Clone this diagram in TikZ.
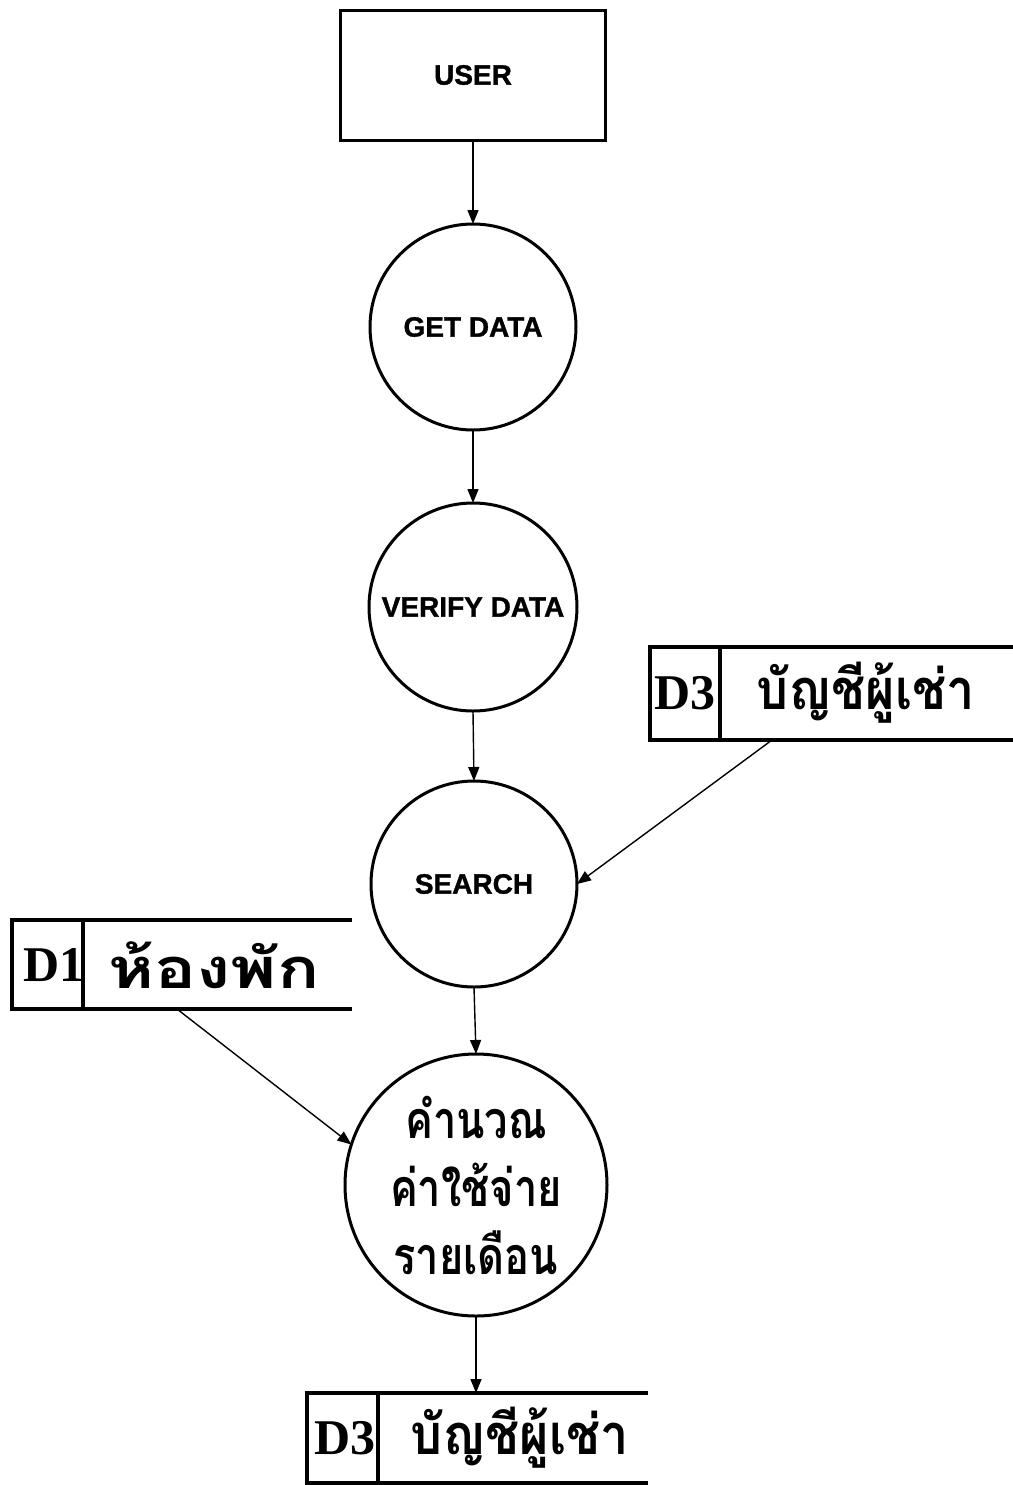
\documentclass[tikz,border=0pt]{standalone}
\usepackage{fontspec}
\newfontfamily\lsans[FakeBold=1.2]{Liberation Sans}
\newfontfamily\lserif{Liberation Serif}
\newfontfamily\thaifont[Script=Thai,FakeStretch=0.9]{Loma}
\newfontfamily\thainarrow[Script=Thai,FakeStretch=0.8]{Loma}
\newfontfamily\thaiwide[Script=Thai,FakeStretch=1.25]{Loma}
\usetikzlibrary{arrows.meta,calc}
\begin{document}
\begin{tikzpicture}[x=0.5pt,y=-0.5pt,
  proc/.style={draw, circle, line width=1.5pt, inner sep=0pt, outer sep=0pt,
    font=\lsans\bfseries\fontsize{14}{16}\selectfont},
  entity/.style={draw, rectangle, line width=1.5pt, inner sep=0pt, outer sep=0pt,
    minimum width=132.5pt, minimum height=65pt,
    font=\lsans\bfseries\fontsize{14}{16}\selectfont},
  storebox/.style={inner sep=0pt, outer sep=0pt, anchor=north west},
  storeline/.style={line width=2pt},
  sid/.style={font=\lserif\bfseries\fontsize{25}{28}\selectfont, inner sep=0pt},
  sname/.style={font=\thaifont\bfseries\fontsize{28}{30}\selectfont, inner sep=0pt},
  flow/.style={line width=0.7pt, -{Triangle[length=7pt,width=5.5pt]}}]
\useasboundingbox (0,0) rectangle (1013,1485);

% external entity
\node[entity] (user) at (473,75) {USER};

% processes
\node[proc, minimum size=103pt] (get) at (473,327) {GET DATA};
\node[proc, minimum size=104pt] (verify) at (473,607) {VERIFY DATA};
\node[proc, minimum size=103pt] (search) at (474,884) {SEARCH};
\node[proc, minimum size=131pt, font=\thainarrow\bfseries\fontsize{26}{34}\selectfont, align=center]
  (calc) at (476,1185) {คำนวณ\\ค่าใช้จ่าย\\รายเดือน};

% data store D3 (top right)
\node[storebox, minimum width=181.5pt, minimum height=46.5pt] (d3a) at (650,647) {};
\draw[storeline] (d3a.north east) -- (d3a.north west) -- (d3a.south west) -- (d3a.south east);
\coordinate (d3adiv) at (720,647);
\draw[storeline] (d3adiv) -- (d3adiv |- d3a.south);
\node[sid] (d3aid) at (685,693) {D3};
\node[sname] (d3aname) at (866,693) {บัญชีผู้เช่า};

% data store D1 (left)
\node[storebox, minimum width=170pt, minimum height=44.5pt] (d1) at (12,920) {};
\draw[storeline] (d1.north east) -- (d1.north west) -- (d1.south west) -- (d1.south east);
\coordinate (d1div) at (83,920);
\draw[storeline] (d1div) -- (d1div |- d1.south);
\node[sid] (d1id) at (54,965) {D1};
\node[sname, font=\thaiwide\bfseries\fontsize{28}{30}\selectfont] (d1name) at (214,965) {ห้องพัก};

% data store D3 (bottom)
\node[storebox, minimum width=170.5pt, minimum height=45pt] (d3b) at (307,1393) {};
\draw[storeline] (d3b.north east) -- (d3b.north west) -- (d3b.south west) -- (d3b.south east);
\coordinate (d3bdiv) at (378,1393);
\draw[storeline] (d3bdiv) -- (d3bdiv |- d3b.south);
\node[sid] (d3bid) at (345,1438) {D3};
\node[sname] (d3bname) at (520,1438) {บัญชีผู้เช่า};

% flows
\draw[flow] (user.south) -- (user.south |- get.north);
\draw[flow] (get.south) -- (verify.north);
\draw[flow] (verify.south) -- (search.north);
\draw[flow] (search.south) -- (calc.north);
\draw[flow] (calc.south) -- (calc.south |- d3b.north);
\coordinate (d3aout) at (772,740);
\draw[flow] (d3aout) -- (search.east);
\coordinate (d1out) at (177,1009);
\draw[flow] (d1out) -- (calc.162);
\end{tikzpicture}
\end{document}
